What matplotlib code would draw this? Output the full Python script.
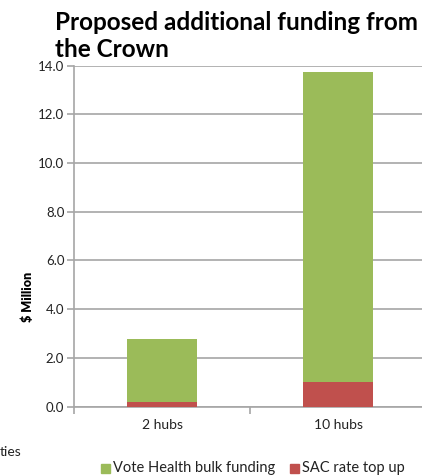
import numpy as np
import matplotlib
matplotlib.use("Agg")
import matplotlib.pyplot as plt
from matplotlib.patches import Rectangle

categories = ["2 hubs", "10 hubs"]
sac_top_up = [0.18, 0.99]
vote_health = [2.59, 12.74]
yticks = [0, 2, 4, 6, 8, 10, 12, 14]

green = "#9BBB59"
red = "#C0504D"
grid_col = "#A6A6A6"

plt.rcParams["font.family"] = ["Lato", "DejaVu Sans"]

W, H = 422, 475
fig = plt.figure(figsize=(W / 100, H / 100), dpi=100)
# axes spills off the right edge like the cropped original
ax = fig.add_axes([74 / W, 1 - 406.5 / H, 352 / W, (406.5 - 65.7) / H])

x = np.arange(len(categories))
ax.bar(x, sac_top_up, width=0.4, color=red, zorder=3)
ax.bar(x, vote_health, width=0.4, bottom=sac_top_up, color=green, zorder=3)

ax.set_xlim(-0.5, 1.5)
ax.set_ylim(0, 14)
ax.set_yticks(yticks)
ax.set_yticklabels([f"{v:.1f}" for v in yticks], fontsize=9.5, color="#222222")
ax.yaxis.grid(True, color=grid_col, linewidth=1.2, zorder=0)
ax.set_xticks(x)
ax.set_xticklabels(categories, fontsize=10, color="#222222")
ax.tick_params(axis="x", length=0, pad=9)
ax.tick_params(axis="y", length=5, color=grid_col, width=1.2, pad=2)
# minor ticks at category boundaries
ax.set_xticks([-0.5, 0.5, 1.5], minor=True)
ax.tick_params(axis="x", which="minor", length=5, color=grid_col, width=1.2)

for s in ["top", "right"]:
    ax.spines[s].set_visible(False)
for s in ["left", "bottom"]:
    ax.spines[s].set_color(grid_col)
    ax.spines[s].set_linewidth(1.2)

ax.set_ylabel("$ Million", fontsize=9, fontweight="heavy")
ax.yaxis.set_label_coords(-40 / 352, (406.5 - 297) / (406.5 - 65.7))

fig.text(55 / W, 1 - 11 / H, "Proposed additional funding from\nthe Crown",
         fontsize=17.5, fontweight="bold", va="top", ha="left", linespacing=1.2)

fig.text(0, 1 - 452 / H, "ties", fontsize=10, va="center", ha="left", color="#222222")

# legend drawn by hand at the bottom
fig.patches.append(Rectangle((101 / W, 1 - 473 / H), 9 / W, 9 / H,
                             transform=fig.transFigure, color=green))
fig.text(113 / W, 1 - 468 / H, "Vote Health bulk funding", fontsize=10.5,
         va="center", ha="left", color="#222222")
fig.patches.append(Rectangle((290 / W, 1 - 473 / H), 9 / W, 9 / H,
                             transform=fig.transFigure, color=red))
fig.text(302 / W, 1 - 468 / H, "SAC rate top up", fontsize=10.5,
         va="center", ha="left", color="#222222")

fig.savefig("out.png", dpi=100)
